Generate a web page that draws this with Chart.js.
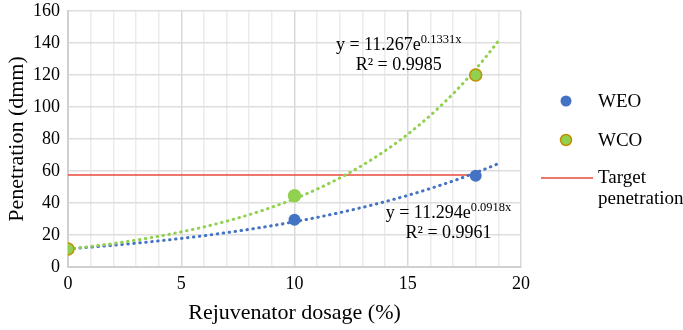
<!DOCTYPE html>
<html>
<head>
<meta charset="utf-8">
<script src="https://cdn.jsdelivr.net/npm/chart.js@4.4.0/dist/chart.umd.min.js"></script>
<style>
  html, body { margin: 0; padding: 0; background: #fff; }
  #chart { display: block; }
</style>
</head>
<body>
<canvas id="chart" width="683" height="330"></canvas>
<script>
// Dosage vs penetration for the two rejuvenators
const dosage = [0, 10, 18];
const weoValues = [11.3, 29.5, 57];
const wcoValues = [11.3, 44.5, 120];
const targetPenetration = 57.5;
const targetRange = [0, 18];

// Exponential fits y = a * e^(b x), as printed on the chart
const weoFit = { a: 11.294, b: 0.0918, r2: '0.9961' };
const wcoFit = { a: 11.267, b: 0.1331, r2: '0.9985' };
const fitRange = [0, 19];

const xTicks = [0, 5, 10, 15, 20];
const yTicks = [0, 20, 40, 60, 80, 100, 120, 140, 160];

const BLUE = '#4472C4';
const GREEN = '#92D050';
const GOLD = '#C09000';
const RED = '#E8483A';
const SERIF = '"Liberation Serif", "Times New Roman", serif';

function fitPoints(fit) {
  const pts = [];
  for (let x = fitRange[0]; x <= fitRange[1] + 1e-9; x += 0.25) {
    pts.push({ x: x, y: fit.a * Math.exp(fit.b * x) });
  }
  return pts;
}

function pairs(xs, ys) {
  return xs.map((x, i) => ({ x: x, y: ys[i] }));
}

// Equation labels with a superscript exponent
const equationPlugin = {
  id: 'equations',
  afterDatasetsDraw(chart) {
    const ctx = chart.ctx;
    const sx = chart.scales.x, sy = chart.scales.y;
    const labels = [
      { fit: wcoFit, x: 14.6, y: 135.5, dy: 20 },
      { fit: weoFit, x: 16.8, y: 30.5, dy: 20 }
    ];
    ctx.save();
    ctx.fillStyle = '#000';
    ctx.textBaseline = 'alphabetic';
    labels.forEach(l => {
      const cx = sx.getPixelForValue(l.x);
      const cy = sy.getPixelForValue(l.y);
      const main = 'y = ' + l.fit.a.toFixed(3) + 'e';
      const sup = l.fit.b.toFixed(4) + 'x';
      ctx.font = '18px ' + SERIF;
      const wMain = ctx.measureText(main).width;
      ctx.font = '12.5px ' + SERIF;
      const wSup = ctx.measureText(sup).width;
      const left = cx - (wMain + wSup) / 2;
      ctx.textAlign = 'left';
      ctx.font = '18px ' + SERIF;
      ctx.fillText(main, left, cy);
      ctx.font = '12.5px ' + SERIF;
      ctx.fillText(sup, left + wMain, cy - 7);
      ctx.font = '18px ' + SERIF;
      ctx.textAlign = 'center';
      ctx.fillText('R\u00B2 = ' + l.fit.r2, cx, cy + l.dy);
    });
    ctx.restore();
  }
};

// Legend on the right, drawn by hand so the last entry can wrap
const legendPlugin = {
  id: 'sideLegend',
  afterDraw(chart) {
    const ctx = chart.ctx;
    const x0 = chart.chartArea.right + 45;
    const tx = x0 + 32;
    ctx.save();
    ctx.font = '19px ' + SERIF;
    ctx.fillStyle = '#000';
    ctx.textBaseline = 'middle';
    ctx.textAlign = 'left';

    ctx.beginPath();
    ctx.arc(x0, 101, 5.5, 0, Math.PI * 2);
    ctx.fillStyle = BLUE;
    ctx.fill();
    ctx.fillStyle = '#000';
    ctx.fillText('WEO', tx, 102);

    ctx.beginPath();
    ctx.arc(x0, 140, 5.5, 0, Math.PI * 2);
    ctx.fillStyle = GREEN;
    ctx.fill();
    ctx.lineWidth = 1.5;
    ctx.strokeStyle = GOLD;
    ctx.stroke();
    ctx.fillStyle = '#000';
    ctx.fillText('WCO', tx, 141);

    ctx.beginPath();
    ctx.moveTo(x0 - 25, 178);
    ctx.lineTo(x0 + 27, 178);
    ctx.lineWidth = 1.5;
    ctx.strokeStyle = RED;
    ctx.stroke();
    ctx.fillText('Target', tx, 178);
    ctx.fillText('penetration', tx, 199);
    ctx.restore();
  }
};

new Chart(document.getElementById('chart'), {
  type: 'scatter',
  data: {
    datasets: [
      {
        label: 'WCO',
        data: pairs(dosage, wcoValues),
        backgroundColor: GREEN,
        borderColor: [GOLD, GREEN, GOLD],
        borderWidth: 1.5,
        pointRadius: 6,
        order: 0
      },
      {
        label: 'WEO',
        data: pairs(dosage, weoValues),
        backgroundColor: BLUE,
        borderColor: BLUE,
        borderWidth: 0,
        pointRadius: 6,
        order: 1
      },
      {
        label: 'WCO fit',
        type: 'line',
        data: fitPoints(wcoFit),
        borderColor: GREEN,
        borderWidth: 3,
        borderDash: [0.5, 5.5],
        borderCapStyle: 'round',
        pointRadius: 0,
        tension: 0,
        order: 2
      },
      {
        label: 'WEO fit',
        type: 'line',
        data: fitPoints(weoFit),
        borderColor: BLUE,
        borderWidth: 3,
        borderDash: [0.5, 5.5],
        borderCapStyle: 'round',
        pointRadius: 0,
        tension: 0,
        order: 3
      },
      {
        label: 'Target penetration',
        type: 'line',
        data: targetRange.map(x => ({ x: x, y: targetPenetration })),
        borderColor: RED,
        borderWidth: 1.5,
        pointRadius: 0,
        order: 4
      }
    ]
  },
  options: {
    responsive: false,
    devicePixelRatio: 1,
    animation: false,
    layout: { padding: { left: 0, right: 162, top: 11, bottom: 0 } },
    plugins: {
      legend: { display: false },
      tooltip: { enabled: false }
    },
    scales: {
      x: {
        type: 'linear',
        min: xTicks[0],
        max: xTicks[xTicks.length - 1],
        afterBuildTicks: s => {
          const t = [];
          for (let v = s.min; v <= s.max; v++) t.push({ value: v });
          s.ticks = t;
        },
        afterFit: s => { s.height = 63; },
        ticks: {
          autoSkip: false,
          maxRotation: 0,
          padding: 6,
          color: '#000',
          font: { family: SERIF, size: 18 },
          callback: v => (xTicks.includes(v) ? String(v) : '')
        },
        grid: {
          color: ctx => (ctx.tick && ctx.tick.value % 5 === 0 ? '#d9d9d9' : '#ebebeb'),
          lineWidth: 1.5,
          drawTicks: false
        },
        border: { color: '#d0d0d0', width: 2 },
        title: {
          display: true,
          text: 'Rejuvenator dosage (%)',
          color: '#000',
          font: { family: SERIF, size: 22 },
          padding: { top: 4 }
        }
      },
      y: {
        min: yTicks[0],
        max: yTicks[yTicks.length - 1],
        afterBuildTicks: s => { s.ticks = yTicks.map(v => ({ value: v })); },
        afterFit: s => {
          s.width = 68;
          s.paddingTop = 0;
          s.paddingBottom = 0;
        },
        ticks: {
          padding: 8,
          color: '#000',
          font: { family: SERIF, size: 18 }
        },
        grid: { color: '#dedede', lineWidth: 1.5, drawTicks: false },
        border: { color: '#d0d0d0', width: 2 },
        title: {
          display: true,
          text: 'Penetration (dmm)',
          color: '#000',
          font: { family: SERIF, size: 22 },
          padding: { bottom: 4 }
        }
      }
    }
  },
  plugins: [equationPlugin, legendPlugin]
});
</script>
</body>
</html>
